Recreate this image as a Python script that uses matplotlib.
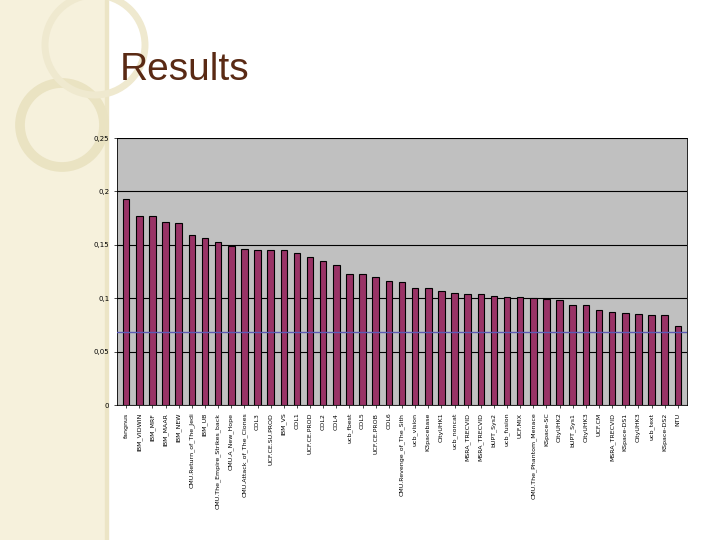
import matplotlib.pyplot as plt
from matplotlib.patches import Rectangle, Circle

labels = ["fangnus", "IBM_VIDWIN", "IBM_MRF", "IBM_MAAR", "IBM_NEW", "CMU.Return_of_The_Jedi",
          "IBM_UB", "CMU.The_Empire_Strikes_back", "CMU.A_New_Hope", "CMU.Attack_of_The_Clones",
          "COL3", "UCF.CE.SU.PROD", "IBM_VS", "COL1", "UCF.CE.PROD", "COL2", "COL4", "ucb_fbest",
          "COL5", "UCF.CE.PROB", "COL6", "CMU.Revenge_of_The_Sith", "ucb_vision", "K3pacebase",
          "CityUHK1", "ucb_noncat", "MSRA_TRECVID", "MSRA_TRECVID", "bUPT_Sys2", "ucb_fusion",
          "UCF.MIX", "CMU.The_Phantom_Menace", "KSpace-SC", "CityUHK2", "bUPT_Sys1", "CityUHK3",
          "UCF.CM", "MSRA_TRECVID", "KSpace-DS1", "CityUHK3", "ucb_text", "KSpace-DS2", "NTU"]
values = [0.193, 0.177, 0.177, 0.171, 0.170, 0.159, 0.156, 0.153, 0.149, 0.146, 0.145, 0.145,
          0.145, 0.142, 0.139, 0.135, 0.131, 0.123, 0.123, 0.120, 0.116, 0.115, 0.110, 0.110,
          0.107, 0.105, 0.104, 0.104, 0.102, 0.101, 0.101, 0.100, 0.099, 0.098, 0.094, 0.094,
          0.089, 0.087, 0.086, 0.085, 0.084, 0.084, 0.074]
mean_line = 0.068
yticks = [0, 0.05, 0.1, 0.15, 0.2, 0.25]

fig = plt.figure(figsize=(7.2, 5.4), dpi=100)

# slide decoration
deco = fig.add_axes([0, 0, 1, 1])
deco.set_xlim(0, 720)
deco.set_ylim(540, 0)
deco.axis('off')
deco.add_patch(Rectangle((0, 0), 105, 540, color='#f6f1dc'))
deco.add_patch(Rectangle((105, 0), 3, 540, color='#ece5c6'))
deco.add_patch(Circle((62, 125), 42, fill=False, lw=7, color='#eae3c2'))
deco.add_patch(Circle((95, 45), 50, fill=False, lw=5, color='#efe9cf'))
deco.text(120, 70, "Results", fontsize=28, color='#5a2a14', va='center', family='Liberation Sans')

ax = fig.add_axes([117/720, 1 - 405/540, 570/720, 267/540])
ax.set_facecolor('#c0c0c0')
x = range(len(values))
ax.bar(x, values, width=0.5, color='#993366', edgecolor='black', linewidth=0.8, zorder=3)
ax.axhline(mean_line, color='#5b5bb5', lw=1, zorder=4)
ax.set_ylim(0, 0.25)
ax.set_xlim(-0.7, len(values) - 0.3)
ax.set_yticks(yticks)
ax.set_yticklabels([("%g" % t).replace('.', ',') for t in yticks], fontsize=5)
ax.yaxis.grid(True, color='black', lw=0.8, zorder=1)
ax.set_xticks(list(x))
ax.set_xticklabels(labels, rotation=90, fontsize=4.5)
ax.tick_params(length=2, width=0.5)
for s in ax.spines.values():
    s.set_linewidth(0.6)

fig.savefig('out.png', dpi=100)
